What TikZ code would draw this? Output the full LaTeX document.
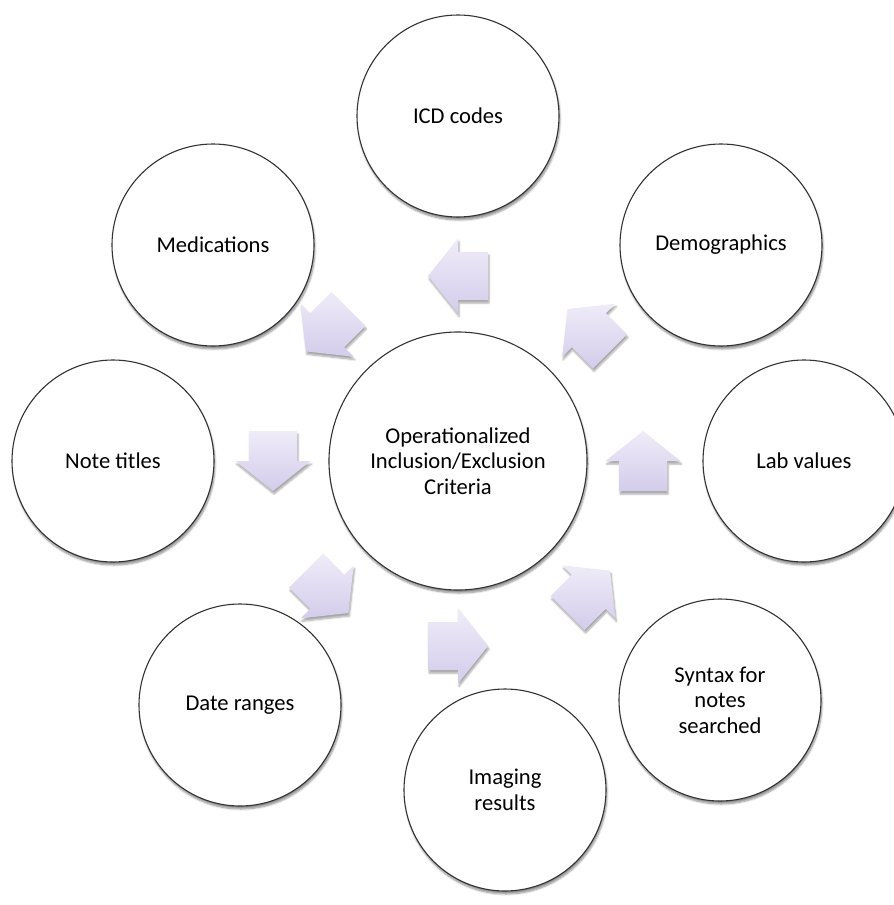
\documentclass[tikz,border=0pt]{standalone}
\usepackage{fontspec}
\setmainfont{Carlito}
\usetikzlibrary{calc,positioning,shadows.blur}

\definecolor{lilactop}{HTML}{EFECF8}
\definecolor{lilacbot}{HTML}{D3CCEB}

\begin{document}
\begin{tikzpicture}[x=1pt,y=1pt]

  % Parameters
  \def\dmain{258pt}
  \def\dsat{202pt}
  \def\rarr{185}

  % Styles
  \tikzstyle{hub}=[circle,draw=black!80,line width=1.1pt,fill=white,minimum size=\dmain,inner sep=0pt,align=center,font=\fontsize{22.6}{25.5}\selectfont,blur shadow={shadow xshift=1pt,shadow yshift=-3pt,shadow blur steps=6,shadow opacity=45}]
  \tikzstyle{sat}=[hub,minimum size=\dsat]
  \tikzstyle{blockarrow}=[top color=lilactop,bottom color=lilacbot,blur shadow={shadow xshift=1pt,shadow yshift=-3pt,shadow blur steps=5,shadow opacity=35}]

  % \blockarrow{<centre>}{<direction>}
  \newcommand\blockarrow[2]{%
    \shade[blockarrow] ([shift={(#1)},rotate=#2]-30,24) -- ([shift={(#1)},rotate=#2]0,24)
      -- ([shift={(#1)},rotate=#2]0,37.5) -- ([shift={(#1)},rotate=#2]30,0)
      -- ([shift={(#1)},rotate=#2]0,-37.5) -- ([shift={(#1)},rotate=#2]0,-24)
      -- ([shift={(#1)},rotate=#2]-30,-24) -- cycle;
  }

  % ===========================================================================

  \useasboundingbox (0,0) rectangle (894,-905);

  % Centre
  \node[hub] (crit) at (458,-461) {Operationalized\\Inclusion/Exclusion\\Criteria};

  % Satellites
  \foreach \dx/\dy/\id/\txt in {0/345/icd/ICD codes, 263/216/demo/Demographics, 346/0/lab/Lab values,
      262/-239/syn/{Syntax for\\notes\\searched}, 47/-329/img/{Imaging\\results},
      -218/-244/date/Date ranges, -345/0/note/Note titles, -245/216/med/Medications}
    \node[sat] (\id) at ($(crit)+(\dx,\dy)$) {\txt};

  % Arrows
  \foreach \ang/\id in {90/icd, 45/demo, 0/lab, -45/syn, -90/img, -135/date, 180/note, 135/med}{
    \coordinate (arr-\id) at ($(crit)+(\ang:\rarr)$);
    \blockarrow{arr-\id}{\ang+90}
  }

\end{tikzpicture}
\end{document}
